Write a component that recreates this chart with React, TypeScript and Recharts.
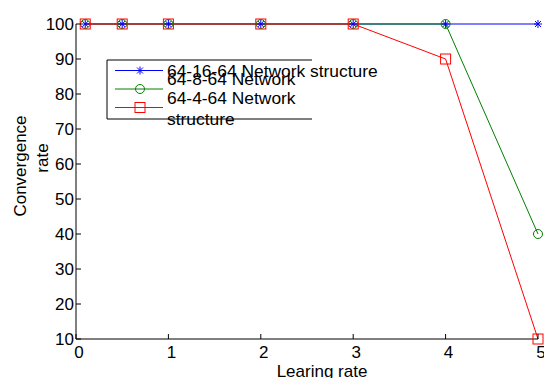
import React from 'react';
import { LineChart, Line, XAxis, YAxis } from 'recharts';

const learningRates = [0.1, 0.5, 1, 2, 3, 4, 5];
const net16 = [100, 100, 100, 100, 100, 100, 100];
const net8 = [100, 100, 100, 100, 100, 100, 40];
const net4 = [100, 100, 100, 100, 100, 90, 10];

const xTicks = [0, 1, 2, 3, 4, 5];
const yTicks = [10, 20, 30, 40, 50, 60, 70, 80, 90, 100];

const seriesKeys = ['s16', 's8', 's4'];
const seriesColors = ['#0000ff', '#008000', '#ff0000'];
const legendLines = [
  ['64-16-64 Network structure'],
  ['64-8-64 Network'],
  ['64-4-64 Network', 'structure'],
];
const xLabel = 'Learing rate';
const yLabelLines = ['Convergence', 'rate'];

const data = learningRates.map((x, i) => ({ x, s16: net16[i], s8: net8[i], s4: net4[i] }));

const FONT = '"Liberation Sans", Arial, Helvetica, sans-serif';

type Marker = 'star' | 'circle' | 'square';
const markers: Marker[] = ['star', 'circle', 'square'];

function drawMarker(kind: Marker, cx: number, cy: number, color: string, key?: string | number) {
  if (kind === 'star') {
    const r = 4;
    const d = 3;
    return (
      <g key={key} stroke={color} strokeWidth={1}>
        <line x1={cx - r} x2={cx + r} y1={cy} y2={cy} />
        <line x1={cx} x2={cx} y1={cy - r} y2={cy + r} />
        <line x1={cx - d} x2={cx + d} y1={cy - d} y2={cy + d} />
        <line x1={cx - d} x2={cx + d} y1={cy + d} y2={cy - d} />
      </g>
    );
  }
  if (kind === 'circle') {
    return <circle key={key} cx={cx} cy={cy} r={4.5} fill="none" stroke={color} strokeWidth={1} />;
  }
  return <rect key={key} x={cx - 5} y={cy - 5} width={10} height={10} fill="none" stroke={color} strokeWidth={1} />;
}

const makeDot = (idx: number) => (props: any) => {
  const { cx, cy, index } = props;
  if (cx == null || cy == null) return <g key={index} />;
  return drawMarker(markers[idx], cx, cy, seriesColors[idx], index);
};

const XTick = (props: any) => {
  const { x, y, payload } = props;
  return (
    <g>
      <line x1={x} x2={x} y1={y} y2={y - 5} stroke="#000" />
      <text x={x + 3} y={y + 19} textAnchor="middle" fontSize={17} fontFamily={FONT} fill="#000">
        {payload.value}
      </text>
    </g>
  );
};

const YTickLeft = (props: any) => {
  const { x, y, payload } = props;
  return (
    <g>
      <line x1={x} x2={x + 5} y1={y} y2={y} stroke="#000" />
      <text x={x - 2} y={y + 6} textAnchor="end" fontSize={17} fontFamily={FONT} fill="#000">
        {payload.value}
      </text>
    </g>
  );
};

const YTickRight = (props: any) => {
  const { x, y } = props;
  return <line x1={x} x2={x - 5} y1={y} y2={y} stroke="#000" />;
};

export default function App() {
  return (
    <div style={{ position: 'absolute', left: 0, top: 0, width: 544, height: 378, background: '#fff', overflow: 'hidden' }}>
      <LineChart width={544} height={378} data={data} margin={{ top: 24, right: 6, left: 0, bottom: 0 }}>
        <XAxis
          dataKey="x"
          type="number"
          domain={[0, 5]}
          ticks={xTicks}
          height={39}
          tickSize={0}
          tickMargin={0}
          tickLine={false}
          axisLine={{ stroke: '#000' }}
          tick={<XTick />}
          interval={0}
        />
        <XAxis xAxisId="top" dataKey="x" type="number" domain={[0, 5]} orientation="top" height={0} tick={false} tickLine={false} axisLine={{ stroke: '#000' }} />
        <YAxis
          type="number"
          domain={[10, 100]}
          ticks={yTicks}
          width={76}
          tickSize={0}
          tickMargin={0}
          tickLine={false}
          axisLine={{ stroke: '#000' }}
          tick={<YTickLeft />}
          interval={0}
        />
        <YAxis
          yAxisId="right"
          orientation="right"
          type="number"
          domain={[10, 100]}
          ticks={yTicks}
          width={0}
          tickSize={0}
          tickMargin={0}
          tickLine={false}
          axisLine={{ stroke: '#000' }}
          tick={<YTickRight />}
          interval={0}
        />
        {seriesKeys.map((k, i) => (
          <Line
            key={k}
            dataKey={k}
            type="linear"
            stroke={seriesColors[i]}
            strokeWidth={1}
            dot={makeDot(i)}
            activeDot={false}
            isAnimationActive={false}
          />
        ))}
      </LineChart>
      <svg width={544} height={378} style={{ position: 'absolute', left: 0, top: 0, pointerEvents: 'none' }}>
        <g fontFamily={FONT} fill="#000">
          {yLabelLines.map((t, i) => {
            const px = i === 0 ? 26 : 48;
            const py = i === 0 ? 166 : 158;
            return (
              <text key={t} x={px} y={py} fontSize={17} textAnchor="middle" transform={`rotate(-90, ${px}, ${py})`}>
                {t}
              </text>
            );
          })}
          <text x={322} y={377} fontSize={17} textAnchor="middle">
            {xLabel}
          </text>
        </g>
        <rect x={107} y={60} width={205} height={59} fill="#fff" stroke="none" />
        <path d="M312 60 H107 V119 H312" fill="none" stroke="#000" strokeWidth={1} />
        {seriesColors.map((c, i) => {
          const ys = [70.5, 89, 107.5];
          return (
            <g key={c}>
              <line x1={115} x2={163} y1={ys[i]} y2={ys[i]} stroke={c} strokeWidth={1} />
              {drawMarker(markers[i], 140, ys[i], c)}
            </g>
          );
        })}
        <g fontFamily={FONT} fill="#000" fontSize={17.4}>
          <text x={167} y={77}>{legendLines[0][0]}</text>
          <text x={167} y={85}>{legendLines[1][0]}</text>
          <text x={167} y={104}>{legendLines[2][0]}</text>
          <text x={167} y={125}>{legendLines[2][1]}</text>
        </g>
      </svg>
    </div>
  );
}
